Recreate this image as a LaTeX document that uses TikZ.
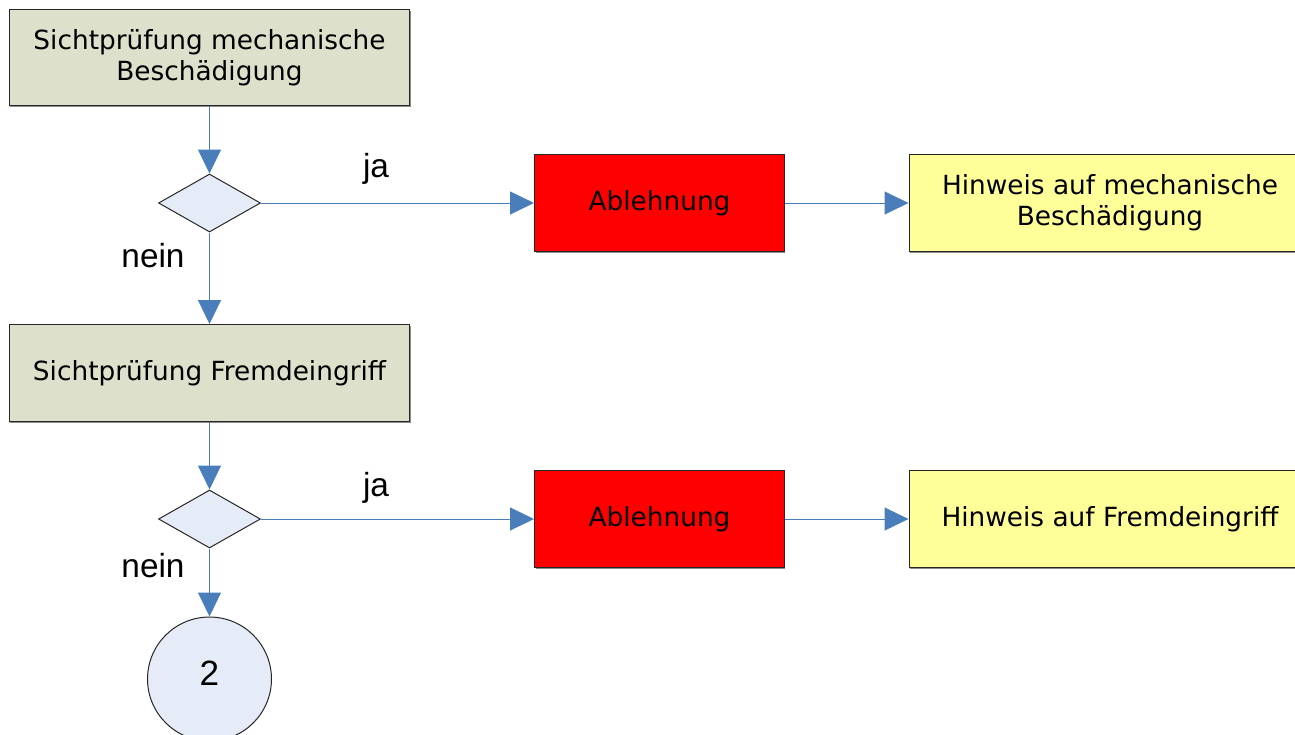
\documentclass[tikz,border=0pt]{standalone}
\usepackage{fontspec}
\setmainfont{DejaVu Sans}
\newfontfamily\arialfont{Liberation Sans}
\usetikzlibrary{arrows.meta,shapes.geometric,shadows}

\definecolor{pruefgruen}{HTML}{DDE0CA}
\definecolor{rautenblau}{HTML}{E6ECF7}
\definecolor{pfeilblau}{HTML}{4A7EBB}
\definecolor{hinweisgelb}{HTML}{FFFF99}

\tikzset{
  kasten/.style={draw=black!85, line width=0.02cm, align=center,
    font=\fontsize{15}{17.6}\selectfont, inner sep=0pt,
    drop shadow={shadow xshift=0.02cm, shadow yshift=-0.03cm, fill=black!45, opacity=1}},
  pruefung/.style={kasten, fill=pruefgruen, minimum width=8.02cm, minimum height=1.94cm},
  ablehnung/.style={kasten, fill=red, minimum width=5cm, minimum height=1.96cm},
  hinweis/.style={kasten, fill=hinweisgelb, minimum width=8.04cm, minimum height=1.96cm},
  raute/.style={diamond, draw=black!85, line width=0.02cm, fill=rautenblau,
    minimum width=2.04cm, minimum height=1.16cm, inner sep=0pt},
  verweis/.style={circle, draw=black!85, line width=0.02cm, fill=rautenblau,
    minimum size=2.48cm, inner sep=0pt, font=\arialfont\fontsize{20}{24}\selectfont},
  marke/.style={font=\arialfont\fontsize{19}{22}\selectfont, anchor=base, inner sep=0pt},
  fluss/.style={draw=pfeilblau, line width=0.02cm,
    -{Triangle[length=0.48cm,width=0.46cm]}}
}

\begin{document}
\begin{tikzpicture}[x=0.02cm,y=-0.02cm]
                \clip (0,0) rectangle (1295,734);
                \useasboundingbox (0,0) rectangle (1295,734);

                % Drawing step 1: mechanical damage
                \node [pruefung] (pruefmech) at (209.5,57.5) {Sichtprüfung mechanische\\Beschädigung};
                \node [raute] (rautemech) at (209.5,203) {};
                \node [ablehnung] (ablehnmech) at (659.5,203) {Ablehnung};
                \node [hinweis] (hinweismech) at (1110,203) {Hinweis auf mechanische\\Beschädigung};

                % Drawing step 2: foreign intervention
                \node [pruefung] (pruefdritt) at (209.5,373) {Sichtprüfung Fremdeingriff};
                \node [raute] (rautedritt) at (209.5,519) {};
                \node [ablehnung] (ablehndritt) at (659.5,519) {Ablehnung};
                \node [hinweis] (hinweisdritt) at (1110,519) {Hinweis auf Fremdeingriff};

                % Marking connector 2
                \node [verweis] (weiter) at (209.5,679) {\raisebox{0.22cm}{2}};

                % Drawing connectors
                \draw [fluss] (pruefmech) -- (rautemech);
                \draw [fluss] (rautemech) -- (ablehnmech);
                \draw [fluss] (ablehnmech) -- (hinweismech);
                \draw [fluss] (rautemech) -- (pruefdritt);
                \draw [fluss] (pruefdritt) -- (rautedritt);
                \draw [fluss] (rautedritt) -- (ablehndritt);
                \draw [fluss] (ablehndritt) -- (hinweisdritt);
                \draw [fluss] (rautedritt) -- (weiter);

                % Marking labels ja / nein
                \node [marke] (jamech) at (376,177) {ja};
                \node [marke] (neinmech) at (153,267) {nein};
                \node [marke] (jadritt) at (376,496) {ja};
                \node [marke] (neindritt) at (153,577) {nein};
\end{tikzpicture}
\end{document}
